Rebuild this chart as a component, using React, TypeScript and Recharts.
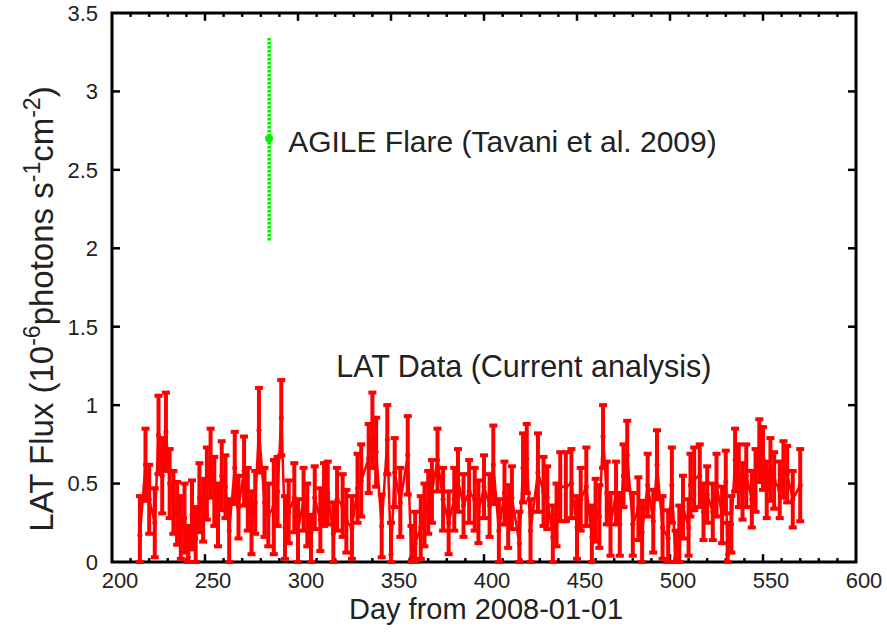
import {
  ComposedChart, Line, XAxis, YAxis, ErrorBar, ReferenceLine, ReferenceArea, ReferenceDot, Label,
} from 'recharts';

// LAT light curve (day from 2008-01-01, flux in 1e-6 ph/s/cm2)
const DAY = [
  215, 218, 220, 223, 225, 227, 229, 231, 233, 235, 237, 239, 241, 243, 245, 247, 249, 251, 253, 255, 257, 259, 261, 263, 266, 268, 271, 273, 275, 277, 279,
  282, 284, 287, 289, 291, 293, 295, 298, 300, 303, 305, 307, 309, 312, 314, 316, 319, 321, 324, 326, 329, 332, 334, 338, 340, 342, 345, 348, 350,
  352, 355, 359, 361, 363, 366, 368, 370, 372, 375, 378, 381, 384, 386, 389, 392, 395, 397, 400, 403, 405, 408, 411, 413, 415, 419, 421, 423,
  425, 429, 432, 434, 437, 439, 441, 444, 447, 450, 452, 455, 458, 460, 462, 464, 466, 468, 471, 473, 475, 477, 480, 483, 485, 488, 491, 493,
  496, 499, 501, 503, 505, 507, 510, 511, 513, 516, 518, 520, 523, 525, 528, 530, 531, 533, 535, 537, 539, 541, 544, 546, 548, 550, 552, 554, 556, 559, 561, 563, 566, 570,
];
const FLUX = [
  0.17, 0.62, 0.40, 0.25, 0.81, 0.55, 0.83, 0.50, 0.38, 0.31, 0.22, 0.28, 0.03, 0.30, 0.15, 0.41, 0.33, 0.50, 0.63, 0.45, 0.30, 0.55, 0.48, 0.20, 0.60, 0.35, 0.58, 0.40, 0.25, 0.38, 0.84,
  0.38, 0.30, 0.35, 0.45, 0.92, 0.22, 0.32, 0.41, 0.20, 0.40, 0.30, 0.10, 0.41, 0.27, 0.43, 0.44, 0.18, 0.40, 0.36, 0.26, 0.22, 0.47, 0.52, 0.66, 0.84, 0.70, 0.23, 0.78, 0.05,
  0.57, 0.38, 0.68, 0.03, 0.12, 0.22, 0.30, 0.38, 0.45, 0.65, 0.40, 0.25, 0.40, 0.52, 0.36, 0.45, 0.40, 0.32, 0.48, 0.36, 0.62, 0.20, 0.44, 0.29, 0.41, 0.12, 0.60, 0.66,
  0.20, 0.57, 0.45, 0.41, 0.16, 0.30, 0.48, 0.48, 0.50, 0.22, 0.40, 0.48, 0.16, 0.33, 0.29, 0.80, 0.44, 0.24, 0.44, 0.24, 0.55, 0.68, 0.24, 0.34, 0.19, 0.49, 0.26, 0.62,
  0.22, 0.15, 0.49, 0.02, 0.18, 0.35, 0.22, 0.49, 0.53, 0.55, 0.32, 0.43, 0.32, 0.49, 0.30, 0.51, 0.05, 0.24, 0.65, 0.55, 0.45, 0.55, 0.40, 0.52, 0.71, 0.66, 0.46, 0.59, 0.52, 0.46, 0.59, 0.56, 0.40, 0.49,
];
const FLUX_ERR = [
  0.25, 0.23, 0.22, 0.22, 0.25, 0.24, 0.25, 0.22, 0.2, 0.2, 0.2, 0.22, 0.2, 0.22, 0.2, 0.22, 0.2, 0.23, 0.22, 0.22, 0.2, 0.22, 0.2, 0.2, 0.23, 0.2, 0.22, 0.2, 0.2, 0.2, 0.27,
  0.22, 0.2, 0.3, 0.22, 0.24, 0.2, 0.2, 0.22, 0.2, 0.2, 0.2, 0.2, 0.2, 0.2, 0.2, 0.2, 0.2, 0.2, 0.2, 0.2, 0.2, 0.22, 0.23, 0.22, 0.24, 0.22, 0.2, 0.22, 0.2,
  0.22, 0.22, 0.25, 0.2, 0.2, 0.2, 0.2, 0.2, 0.2, 0.2, 0.2, 0.2, 0.2, 0.2, 0.2, 0.2, 0.2, 0.2, 0.2, 0.2, 0.25, 0.2, 0.2, 0.2, 0.2, 0.2, 0.22, 0.22,
  0.2, 0.25, 0.22, 0.2, 0.2, 0.2, 0.22, 0.22, 0.22, 0.2, 0.2, 0.25, 0.2, 0.2, 0.2, 0.2, 0.2, 0.2, 0.2, 0.2, 0.2, 0.22, 0.2, 0.2, 0.2, 0.2, 0.2, 0.22,
  0.2, 0.18, 0.24, 0.18, 0.18, 0.2, 0.18, 0.2, 0.2, 0.2, 0.18, 0.18, 0.18, 0.2, 0.18, 0.2, 0.2, 0.18, 0.2, 0.2, 0.18, 0.2, 0.18, 0.2, 0.2, 0.2, 0.18, 0.2, 0.18, 0.18, 0.18, 0.18, 0.18, 0.23,
];

// AGILE flare point
const AGILE_DAY = [284.5];
const AGILE_FLUX = [2.7];
const AGILE_ERR = [0.65];

const X_TICKS = [200, 250, 300, 350, 400, 450, 500, 550, 600];
const X_MINOR = [210, 220, 230, 240, 260, 270, 280, 290, 310, 320, 330, 340, 360, 370, 380, 390, 410, 420, 430, 440, 460, 470, 480, 490, 510, 520, 530, 540, 560, 570, 580, 590];
const Y_TICKS = [0, 0.5, 1, 1.5, 2, 2.5, 3, 3.5];

// lower error clipped at the axis floor (flux can't go below 0 on this plot)
const latData = DAY.map((d, i) => ({
  day: d,
  flux: FLUX[i],
  err: [Math.min(FLUX[i], FLUX_ERR[i]), FLUX_ERR[i]],
}));
const agileData = AGILE_DAY.map((d, i) => ({ day: d, flux: AGILE_FLUX[i], err: AGILE_ERR[i] }));

const FONT = '"Liberation Sans", Arial, Helvetica, sans-serif';
const TXT = '#222';

const XTick = (props: any) => (
  <text x={props.x + 8} y={props.y} dy="0.71em" textAnchor="middle" fontSize={22} fill={TXT} fontFamily={FONT}>
    {props.payload.value}
  </text>
);
const YTick = (props: any) => (
  <text x={props.x} y={props.y} dy="0.355em" textAnchor="end" fontSize={22} fill={TXT} fontFamily={FONT}>
    {props.payload.value}
  </text>
);

const plotText = (value: string, dx: number, dy: number, size: number) => (props: any) => {
  const vb = props.viewBox || { x: 0, y: 0 };
  return (
    <text x={vb.x + dx} y={vb.y + dy} dy="0.35em" fontSize={size} fill={TXT} fontFamily={FONT}>
      {value}
    </text>
  );
};

export default function App() {
  const majorX = X_TICKS.slice(1, -1);
  const innerY = Y_TICKS.slice(1, -1);
  return (
    <div style={{ position: 'absolute', left: 0, top: 0, background: '#fff' }}>
      <ComposedChart width={887} height={635} margin={{ top: 13, right: 31, left: 0, bottom: 0 }}>
        <XAxis
          dataKey="day"
          type="number"
          domain={[200, 600]}
          ticks={X_TICKS}
          interval={0}
          allowDataOverflow
          axisLine={false}
          tickLine={false}
          tickSize={0}
          tickMargin={10}
          tick={<XTick />}
          height={73}
        >
          <Label
            content={(p: any) => {
              const vb = p.viewBox;
              return (
                <text x={vb.x + vb.width / 2 + 2} y={619} textAnchor="middle" fontSize={29} fill={TXT} fontFamily={FONT}>
                  Day from 2008-01-01
                </text>
              );
            }}
          />
        </XAxis>
        <YAxis
          type="number"
          domain={[0, 3.5]}
          ticks={Y_TICKS}
          interval={0}
          allowDataOverflow
          axisLine={false}
          tickLine={false}
          tickSize={0}
          tickMargin={14}
          tick={<YTick />}
          width={112}
        >
          <Label
            content={() => {
              const cx = 53;
              const cy = 309;
              return (
                <text
                  x={cx}
                  y={cy}
                  transform={`rotate(-90 ${cx} ${cy})`}
                  textAnchor="middle"
                  fontSize={33}
                  fill={TXT}
                  fontFamily={FONT}
                >
                  <tspan>LAT Flux (10</tspan>
                  <tspan fontSize={23} dy={-13}>-6</tspan>
                  <tspan dy={13}>photons s</tspan>
                  <tspan fontSize={23} dy={-13}>-1</tspan>
                  <tspan dy={13}>cm</tspan>
                  <tspan fontSize={23} dy={-13}>-2</tspan>
                  <tspan dy={13}>)</tspan>
                </text>
              );
            }}
          />
        </YAxis>

        {/* inward ticks */}
        {majorX.map((t) => (
          <ReferenceLine key={`xb${t}`} segment={[{ x: t, y: 0 }, { x: t, y: 0.05 }]} stroke="#000" strokeWidth={2.5} />
        ))}
        {majorX.map((t) => (
          <ReferenceLine key={`xt${t}`} segment={[{ x: t, y: 3.5 }, { x: t, y: 3.45 }]} stroke="#000" strokeWidth={2.5} />
        ))}
        {X_MINOR.map((t) => (
          <ReferenceLine key={`mb${t}`} segment={[{ x: t, y: 0 }, { x: t, y: 0.025 }]} stroke="#000" strokeWidth={2.5} />
        ))}
        {X_MINOR.map((t) => (
          <ReferenceLine key={`mt${t}`} segment={[{ x: t, y: 3.5 }, { x: t, y: 3.475 }]} stroke="#000" strokeWidth={2.5} />
        ))}
        {innerY.map((t) => (
          <ReferenceLine key={`yl${t}`} segment={[{ x: 200, y: t }, { x: 204.3, y: t }]} stroke="#000" strokeWidth={2.5} />
        ))}
        {innerY.map((t) => (
          <ReferenceLine key={`yr${t}`} segment={[{ x: 600, y: t }, { x: 595.7, y: t }]} stroke="#000" strokeWidth={2.5} />
        ))}

        <Line
          data={latData}
          dataKey="flux"
          stroke="#ff0000"
          strokeWidth={2.5}
          dot={{ r: 2.5, fill: '#ff0000', stroke: 'none' }}
          isAnimationActive={false}
        >
          <ErrorBar dataKey="err" direction="y" width={4} strokeWidth={4} stroke="#ff0000" />
        </Line>

        <Line
          data={agileData}
          dataKey="flux"
          stroke="#00f000"
          strokeWidth={2}
          dot={{ r: 4, fill: '#00f000', stroke: 'none' }}
          isAnimationActive={false}
        >
          <ErrorBar dataKey="err" direction="y" width={0} strokeWidth={3.5} stroke="#00f000" strokeDasharray="2.5 1.5" />
        </Line>

        <ReferenceDot x={284.5} y={2.7} r={0} label={plotText('AGILE Flare (Tavani et al. 2009)', 19, 3, 30)} />
        <ReferenceDot x={320} y={1.25} r={0} label={plotText('LAT Data (Current analysis)', 1, 0, 30.5)} />

        <ReferenceArea x1={200} x2={600} y1={0} y2={3.5} fill="none" stroke="#000" strokeWidth={3} ifOverflow="visible" />
      </ComposedChart>
    </div>
  );
}
